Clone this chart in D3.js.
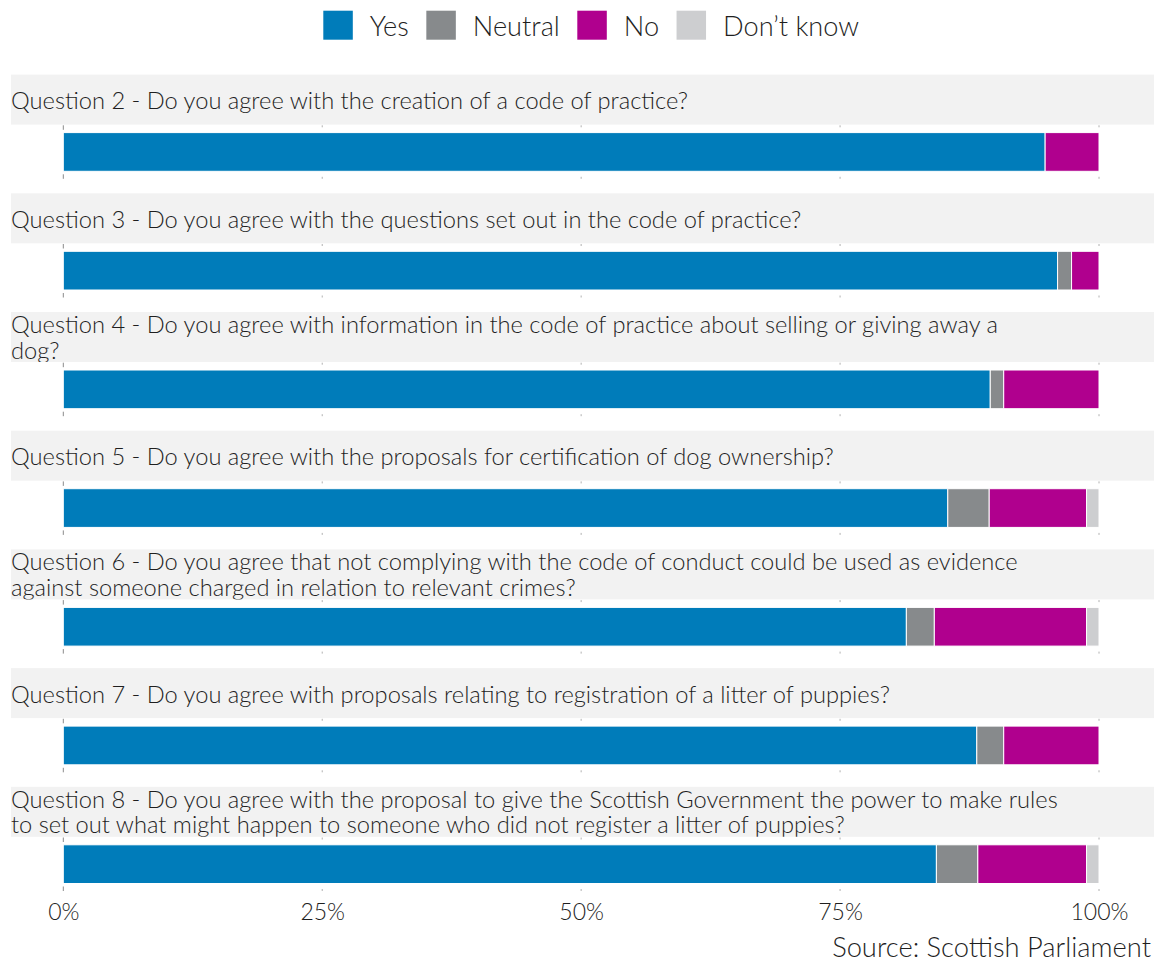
<!DOCTYPE html>
<html><head><meta charset="utf-8">
<script src="https://cdn.jsdelivr.net/npm/d3@7"></script>
<style>body{margin:0;background:#fff}</style>
</head><body><svg id="c" width="1154" height="962"></svg>
<script>
const questions = ["Q2","Q3","Q4","Q5","Q6","Q7","Q8"];
const questionLabels = [
  ["Question 2 - Do you agree with the creation of a code of practice?"],
  ["Question 3 - Do you agree with the questions set out in the code of practice?"],
  ["Question 4 - Do you agree with information in the code of practice about selling or giving away a", "dog?"],
  ["Question 5 - Do you agree with the proposals for certification of dog ownership?"],
  ["Question 6 - Do you agree that not complying with the code of conduct could be used as evidence", "against someone charged in relation to relevant crimes?"],
  ["Question 7 - Do you agree with proposals relating to registration of a litter of puppies?"],
  ["Question 8 - Do you agree with the proposal to give the Scottish Government the power to make rules", "to set out what might happen to someone who did not register a litter of puppies?"]
];
const categories = ["Yes","Neutral","No","Don\u2019t know"];
const yesValues      = [94.8, 96.0, 89.5, 85.4, 81.4, 88.2, 84.3];
const neutralValues  = [0,    1.35, 1.3,  4.0,  2.7,  2.6,  4.0];
const noValues       = [5.2,  2.65, 9.2,  9.4,  14.7, 9.2,  10.5];
const dontKnowValues = [0,    0,    0,    1.2,  1.2,  0,    1.2];
const tickValues = [0, 25, 50, 75, 100];
const tickLabels = ["0%","25%","50%","75%","100%"];
const sourceText = "Source: Scottish Parliament";

const colors = ["#007cba","#878a8c","#b0008e","#cdced0"];
const FONT = "Lato, 'Open Sans', sans-serif";
const WEIGHT = 300;
const TXT = "#1f1f1f";

const svg = d3.select("#c");

function fit(str, target) {
  const t = svg.append("text").style("font-family", FONT).style("font-weight", WEIGHT)
    .style("font-size", "100px").text(str);
  const w = t.node().getComputedTextLength(); t.remove();
  return 100 * target / w;
}
function styleText(sel, fs) {
  return sel.style("font-family", FONT).style("font-weight", WEIGHT)
    .style("font-size", fs + "px").attr("fill", TXT);
}

const table = questions.map((q, i) => ({
  q, "Yes": yesValues[i], "Neutral": neutralValues[i], "No": noValues[i], "Don\u2019t know": dontKnowValues[i]
}));
const series = d3.stack().keys(categories)(table);

const x = d3.scaleLinear().domain([0, 100]).range([63.3, 1099]);
const facet = d3.scaleBand().domain(questions).range([74.6, 74.6 + 7 * 118.7]).paddingInner(0);
const color = d3.scaleOrdinal().domain(categories).range(colors);

const STRIP_H = 50, PANEL_TOP = 50.7, PANEL_H = 53.5, BAR_TOP = 58, BAR_H = 38.7;

const stripFs = fit(questionLabels[4][0], 1007);

// strips
const defs = svg.append("defs");
questions.forEach((q, i) => {
  defs.append("clipPath").attr("id", "clip" + i)
    .append("rect").attr("x", 11).attr("y", facet(q)).attr("width", 1143).attr("height", STRIP_H);
});
const strips = svg.append("g").selectAll("g").data(questions).join("g");
strips.append("rect").attr("x", 11).attr("y", q => facet(q)).attr("width", 1143).attr("height", STRIP_H).attr("fill", "#f2f2f2");
strips.each(function(q, i) {
  const lines = questionLabels[i];
  const g = d3.select(this).append("g").attr("clip-path", `url(#clip${i})`);
  const base = lines.length === 1 ? facet(q) + 34.7 : facet(q) + 21;
  lines.forEach((ln, j) => {
    styleText(g.append("text").attr("x", 11).attr("y", base + j * 25.5), stripFs).text(ln);
  });
});

// ticks in each panel
const tickG = svg.append("g");
questions.forEach(q => {
  const top = facet(q) + PANEL_TOP, bot = facet(q) + PANEL_TOP + PANEL_H;
  tickValues.forEach(v => {
    const len = v === 0 ? 4.5 : 2;
    const col = v === 0 ? "#8a8a8a" : "#b0b0b0";
    tickG.append("line").attr("x1", x(v)).attr("x2", x(v)).attr("y1", top).attr("y2", top + len)
      .attr("stroke", col).attr("stroke-width", 1);
    tickG.append("line").attr("x1", x(v)).attr("x2", x(v)).attr("y1", bot - len).attr("y2", bot)
      .attr("stroke", col).attr("stroke-width", 1);
  });
});

// bars
svg.append("g").selectAll("g").data(series).join("g")
  .attr("fill", d => color(d.key))
  .selectAll("rect").data(d => d.filter(s => s[1] - s[0] > 0)).join("rect")
  .attr("x", d => x(d[0])).attr("width", d => x(d[1]) - x(d[0]))
  .attr("y", d => facet(d.data.q) + BAR_TOP).attr("height", BAR_H)
  .attr("stroke", "#fff").attr("stroke-width", 1);

// x axis labels
const axisFs = fit("100%", 58);
const axisY = facet(questions[6]) + PANEL_TOP + PANEL_H;
const axis = d3.axisBottom(x).tickValues(tickValues).tickFormat((d, i) => tickLabels[i]).tickSize(0);
const ag = svg.append("g").attr("transform", `translate(0,${axisY})`).call(axis);
ag.select(".domain").remove();
styleText(ag.selectAll("text").attr("dy", null).attr("y", 920 - axisY), axisFs);

// source
const srcFs = fit(sourceText, 319);
styleText(svg.append("text").attr("x", 1151).attr("y", 956.5).attr("text-anchor", "end"), srcFs).text(sourceText);

// legend
const legFs = fit("Neutral", 87);
let lx = 323.3;
const leg = svg.append("g");
categories.forEach(c => {
  leg.append("rect").attr("x", lx).attr("y", 10.7).attr("width", 29.5).attr("height", 29).attr("fill", color(c));
  lx += 29.5 + 17;
  const t = styleText(leg.append("text").attr("x", lx).attr("y", 36), legFs).text(c);
  lx += t.node().getComputedTextLength() + 17.5;
});
</script></body></html>
